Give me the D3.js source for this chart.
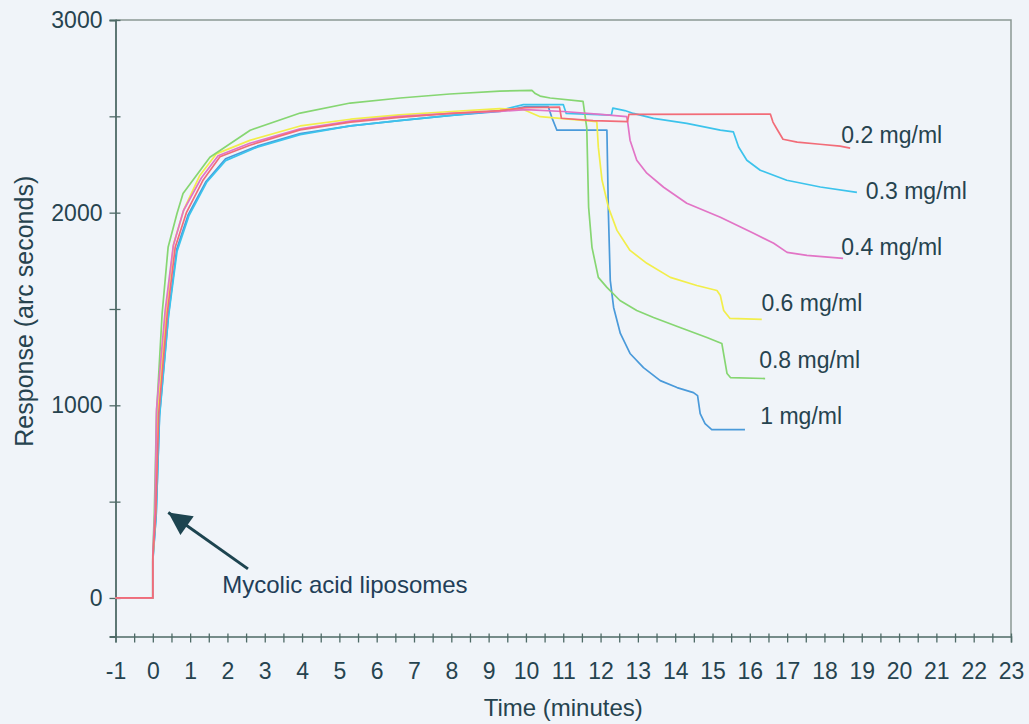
<!DOCTYPE html>
<html>
<head>
<meta charset="utf-8">
<script src="https://cdn.jsdelivr.net/npm/d3@7"></script>
<style>
  body { margin: 0; background: #f0f4f9; }
  svg { display: block; font-family: "Liberation Sans", Arial, sans-serif; }
</style>
</head>
<body>
<svg width="1029" height="724"></svg>
<script>
// series names + colours
var seriesNames = ["1 mg/ml", "0.3 mg/ml", "0.6 mg/ml", "0.8 mg/ml", "0.4 mg/ml", "0.2 mg/ml"];
var seriesColors = ["#4a9ada", "#3cc3ec", "#f2ee4a", "#86d672", "#e274c6", "#f26c78"];

// [time (min), response (arc s)]
var conc1 = [[-1,0],[0,0],[0,190],[0.09,430],[0.18,950],[0.42,1470],[0.64,1810],[0.95,1990],[1.42,2160],[1.95,2280],[2.8,2345],[3.95,2410],[5.3,2450],[6.6,2478],[8.0,2505],[9.3,2525],[10.0,2550],[10.6,2550],[10.69,2496],[10.83,2428],[12.17,2428],[12.21,1997],[12.26,1648],[12.35,1508],[12.53,1373],[12.79,1269],[13.15,1196],[13.6,1128],[14.05,1092],[14.49,1066],[14.6,1050],[14.67,957],[14.8,905],[14.98,874],[15.87,874]];
var conc03 = [[-1,0],[0,0],[0,200],[0.09,430],[0.18,940],[0.42,1460],[0.65,1800],[0.97,1985],[1.45,2160],[1.95,2270],[2.8,2340],[3.95,2405],[5.3,2450],[6.6,2478],[8.0,2505],[9.3,2530],[9.93,2561],[11.0,2561],[11.08,2515],[12.29,2506],[12.33,2543],[12.65,2530],[12.88,2515],[13.42,2489],[14.31,2463],[15.21,2428],[15.56,2419],[15.7,2341],[15.92,2272],[16.28,2220],[16.99,2168],[17.89,2133],[18.87,2105]];
var conc06 = [[-1,0],[0,0],[0,200],[0.07,450],[0.14,970],[0.36,1490],[0.56,1840],[0.84,2020],[1.25,2190],[1.7,2305],[2.6,2375],[3.95,2450],[5.3,2485],[6.6,2508],[8.0,2525],[9.3,2540],[9.93,2535],[10.38,2498],[10.92,2489],[11.45,2480],[11.9,2472],[11.94,2340],[12.04,2168],[12.21,2028],[12.44,1908],[12.79,1804],[13.24,1737],[13.87,1664],[14.58,1622],[15.12,1596],[15.21,1570],[15.3,1492],[15.47,1451],[16.32,1446]];
var conc08 = [[-1,0],[0,0],[0,230],[0.04,440],[0.1,960],[0.25,1477],[0.41,1820],[0.65,1997],[0.81,2100],[1.53,2288],[2.61,2428],[3.95,2517],[5.29,2569],[6.63,2595],[7.96,2616],[9.3,2631],[10.16,2635],[10.25,2618],[10.38,2605],[10.65,2595],[11.53,2578],[11.63,2440],[11.68,2028],[11.77,1820],[11.94,1664],[12.17,1612],[12.52,1544],[12.97,1492],[13.42,1456],[14.13,1404],[14.85,1352],[15.25,1321],[15.39,1165],[15.48,1144],[16.41,1139]];
var conc04 = [[-1,0],[0,0],[0,220],[0.06,460],[0.1,980],[0.33,1490],[0.55,1830],[0.82,2010],[1.3,2180],[1.75,2295],[2.6,2360],[3.95,2435],[5.3,2475],[6.6,2500],[8.0,2515],[9.3,2525],[10.0,2535],[11.0,2525],[12.0,2510],[12.7,2498],[12.73,2465],[12.79,2376],[12.97,2272],[13.24,2205],[13.69,2132],[14.31,2049],[15.21,1976],[16.1,1893],[16.64,1841],[17.0,1794],[17.53,1778],[18.5,1763]];
var conc02 = [[-1,0],[0,0],[0,210],[0.08,440],[0.16,960],[0.39,1480],[0.6,1820],[0.9,2000],[1.35,2170],[1.8,2290],[2.6,2350],[3.95,2430],[5.3,2470],[6.6,2495],[8.0,2515],[9.3,2530],[10.0,2545],[10.9,2548],[10.95,2490],[11.8,2478],[12.72,2472],[12.76,2510],[16.55,2512],[16.62,2470],[16.73,2433],[16.89,2381],[17.27,2366],[17.88,2355],[18.42,2345],[18.69,2335]];
var seriesData = [conc1, conc03, conc06, conc08, conc04, conc02];

// where each concentration label sits (time, response of baseline)
var labelPos = [[16.28,905],[19.11,2070],[16.31,1487],[16.25,1196],[18.45,1778],[18.45,2361]];

var xTicks = d3.range(-1, 24, 1);
var xMinor = d3.range(-0.5, 23, 1);
var yTicks = [0, 1000, 2000, 3000];
var yMinor = [500, 1500, 2500];

// injection arrow: tip, tail, text
var arrowTip = [0.415, 444], arrowTail = [2.55, 151];
var arrowText = "Mycolic acid liposomes", arrowTextAt = [1.86, 26];

var svg = d3.select("svg");
var textCol = "#26434f", axisCol = "#4e6a66";
var plain = function(d){ return String(d); };

var x = d3.scaleLinear().domain([-1, 23]).range([115.5, 1011]);
var y = d3.scaleLinear().domain([-200, 3000]).range([636.5, 20]);

// frame top + right
svg.append("path")
	.attr("d", "M" + x(-1) + "," + y(3000) + "H" + x(23) + "V" + y(-200))
	.attr("fill", "none").attr("stroke", "#8a9894").attr("stroke-width", 1.5);

// x axis
var gx = svg.append("g").attr("transform", "translate(0," + y(-200) + ")");
gx.call(d3.axisBottom(x).tickValues(xTicks).tickSize(6).tickFormat(plain));
gx.append("g").call(d3.axisBottom(x).tickValues(xMinor).tickSize(6).tickFormat(""))
	.select(".domain").remove();
gx.selectAll(".tick line").attr("y1", -3).attr("stroke", axisCol).attr("stroke-width", 1.3);
gx.selectAll(".domain").attr("stroke", axisCol).attr("stroke-width", 1.5);
gx.selectAll(".tick text").attr("y", 26).attr("dy", null)
	.attr("dominant-baseline", "hanging")
	.attr("font-size", 23).attr("fill", textCol);

// y axis
var gy = svg.append("g").attr("transform", "translate(" + x(-1) + ",0)");
gy.call(d3.axisLeft(y).tickValues(yTicks).tickSize(6).tickPadding(7).tickFormat(plain));
gy.append("g").call(d3.axisLeft(y).tickValues(yMinor).tickSize(6).tickFormat(""))
	.select(".domain").remove();
gy.selectAll(".tick line").attr("x1", 5).attr("stroke", axisCol).attr("stroke-width", 1.3);
gy.selectAll(".domain").attr("stroke", axisCol).attr("stroke-width", 1.8);
gy.selectAll(".tick text").attr("font-size", 23).attr("fill", textCol);

// series
var line = d3.line().x(function(d){ return x(d[0]); }).y(function(d){ return y(d[1]); });
svg.append("g").selectAll("path")
	.data(seriesData)
	.join("path")
	.attr("d", line)
	.attr("fill", "none")
	.attr("stroke", function(d, i){ return seriesColors[i]; })
	.attr("stroke-width", 1.7)
	.attr("stroke-linejoin", "round");

svg.append("g").selectAll("text")
	.data(labelPos)
	.join("text")
	.attr("x", function(d){ return x(d[0]); })
	.attr("y", function(d){ return y(d[1]); })
	.attr("font-size", 23)
	.attr("fill", textCol)
	.text(function(d, i){ return seriesNames[i]; });

// arrow
svg.append("defs").append("marker")
	.attr("id", "head")
	.attr("markerUnits", "userSpaceOnUse")
	.attr("viewBox", "-24 -12 26 24")
	.attr("markerWidth", 26).attr("markerHeight", 24)
	.attr("refX", 0).attr("refY", 0)
	.attr("orient", "auto")
	.append("path").attr("d", "M0,0L-23,-11.5L-23,11.5Z").attr("fill", "#1d4450");

svg.append("line")
	.attr("x1", x(arrowTail[0])).attr("y1", y(arrowTail[1]))
	.attr("x2", x(arrowTip[0])).attr("y2", y(arrowTip[1]))
	.attr("stroke", "#1d4450").attr("stroke-width", 3)
	.attr("marker-end", "url(#head)");

svg.append("text")
	.attr("x", x(arrowTextAt[0])).attr("y", y(arrowTextAt[1]))
	.attr("font-size", 24).attr("fill", "#223e58")
	.text(arrowText);

// axis titles
svg.append("text")
	.attr("x", (x(-1) + x(23)) / 2).attr("y", 716)
	.attr("text-anchor", "middle")
	.attr("font-size", 24).attr("fill", textCol)
	.text("Time (minutes)");

svg.append("text")
	.attr("transform", "translate(33," + ((y(3000) + y(-200)) / 2 - 17) + ") rotate(-90)")
	.attr("text-anchor", "middle")
	.attr("font-size", 25).attr("fill", textCol)
	.text("Response (arc seconds)");
</script>
</body>
</html>
